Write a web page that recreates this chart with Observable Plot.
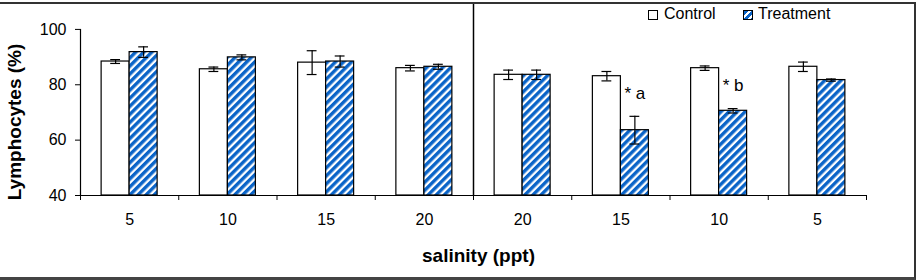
<!DOCTYPE html>
<html>
<head>
<meta charset="utf-8">
<script src="https://cdn.jsdelivr.net/npm/d3@7"></script>
<script src="https://cdn.jsdelivr.net/npm/@observablehq/plot@0.6"></script>
<style>
  body { margin: 0; background: #fff; font-family: "Liberation Sans", Arial, sans-serif; }
  #wrap { position: relative; width: 918px; height: 280px; overflow: hidden; }
  #wrap svg { position: absolute; left: 0; top: 0; }
  #border { position: absolute; left: 0; top: 2px; width: 914px; height: 273px;
            border-top: 2px solid #333; border-right: 2px solid #333; border-bottom: 3px solid #444;
            pointer-events: none; }
  .key { position: absolute; font-size: 16px; line-height: 1; color: #000; }
  .swatch { position: absolute; width: 8px; height: 8px; border: 1px solid #000; }
  .swatch.control { background: #fff; }
  .swatch.treatment { background: repeating-linear-gradient(135deg, #0a64c8 0 3px, #fff 3px 5px); }
</style>
</head>
<body>
<div id="wrap">
  <div id="chart"></div>
  <div id="border"></div>
  <div class="swatch control" style="left:648px; top:10px;"></div>
  <div class="key" style="left:664px; top:6px;">Control</div>
  <div class="swatch treatment" style="left:743px; top:10px;"></div>
  <div class="key" style="left:758px; top:6px;">Treatment</div>
</div>
<script>
// Lymphocyte percentages by salinity step (mean ± error)
const salinity = ["5", "10", "15", "20", "20", "15", "10", "5"];
const control = [88.4, 85.6, 88.0, 86.0, 83.6, 83.1, 86.0, 86.5];
const controlErr = [0.7, 0.8, 4.3, 1.0, 1.7, 1.7, 0.8, 1.7];
const treatment = [91.8, 89.9, 88.4, 86.5, 83.6, 63.6, 70.6, 81.7];
const treatmentErr = [1.9, 0.9, 2.0, 0.9, 1.7, 5.0, 0.8, 0.4];
const notes = ["", "", "", "", "", "* a", "* b", ""];
const yTicks = [40, 60, 80, 100];

const barW = 0.285;  // bar width, in group units
const capW = 0.05;   // half-width of error bar caps
const blue = "#0a64c8";

const groups = salinity.map((s, i) => i);
const controlRows = groups.map(i => ({
  x1: i + 0.5 - barW, x2: i + 0.5, xm: i + 0.5 - barW / 2,
  v: control[i], e: controlErr[i]
}));
const treatmentRows = groups.map(i => ({
  x1: i + 0.5, x2: i + 0.5 + barW, xm: i + 0.5 + barW / 2,
  v: treatment[i], e: treatmentErr[i], note: notes[i]
}));
const allRows = controlRows.concat(treatmentRows);

const svg = Plot.plot({
  width: 918,
  height: 280,
  marginLeft: 80,
  marginRight: 52,
  marginTop: 4,
  marginBottom: 85,
  style: { fontFamily: "'Liberation Sans', Arial, sans-serif", fontSize: "15px", color: "#000", background: "transparent", overflow: "visible" },
  x: { domain: [0, salinity.length] },
  y: { domain: [40, 109] },
  marks: [
    Plot.rectY(controlRows, { x1: "x1", x2: "x2", y1: 40, y2: "v", fill: "white", stroke: "black", strokeWidth: 1.2 }),
    Plot.rectY(treatmentRows, { x1: "x1", x2: "x2", y1: 40, y2: "v", fill: "url(#stripes)", stroke: "black", strokeWidth: 1.2 }),
    // error bars
    Plot.ruleX(allRows, { x: "xm", y1: d => d.v - d.e, y2: d => d.v + d.e, stroke: "black", strokeWidth: 1.2 }),
    Plot.ruleY(allRows, { y: d => d.v - d.e, x1: d => d.xm - capW, x2: d => d.xm + capW, stroke: "black", strokeWidth: 1.2 }),
    Plot.ruleY(allRows, { y: d => d.v + d.e, x1: d => d.xm - capW, x2: d => d.xm + capW, stroke: "black", strokeWidth: 1.2 }),
    // significance notes
    Plot.text(treatmentRows.filter(d => d.note), { x: "xm", y: d => d.v + d.e, dy: -23, text: "note", fontSize: 17 }),
    // axes
    Plot.ruleX([0], { y1: 40, y2: 100, stroke: "black", strokeWidth: 1.2 }),
    Plot.ruleY([40], { stroke: "black", strokeWidth: 1.2 }),
    Plot.ruleX([salinity.length / 2], { stroke: "black", strokeWidth: 1.5 }),
    Plot.axisY({ ticks: yTicks, tickSize: 5, tickPadding: 9, fontSize: 16, label: null }),
    Plot.axisX({ ticks: d3.range(salinity.length + 1), tickSize: 5, tickFormat: () => "", label: null }),
    Plot.axisX({ ticks: groups.map(i => i + 0.5), tickSize: 0, tickPadding: 18, tickFormat: v => salinity[Math.floor(v)], fontSize: 16, label: null }),
    Plot.text(["salinity (ppt)"], { frameAnchor: "bottom", dx: 5, dy: 66, fontWeight: "bold", fontSize: 19 }),
    Plot.text(["Lymphocytes (%)"], { frameAnchor: "left", textAnchor: "middle", rotate: -90, dx: -66, dy: 22, fontWeight: "bold", fontSize: 19 })
  ]
});

// diagonal hatch used by the treatment bars
const defs = d3.select(svg).insert("defs", ":first-child");
const pat = defs.append("pattern")
  .attr("id", "stripes")
  .attr("patternUnits", "userSpaceOnUse")
  .attr("width", 5.7).attr("height", 5.7)
  .attr("patternTransform", "rotate(45)");
pat.append("rect").attr("width", 5.7).attr("height", 5.7).attr("fill", "#fff");
pat.append("rect").attr("width", 3.4).attr("height", 5.7).attr("fill", blue);

document.getElementById("chart").appendChild(svg);
</script>
</body>
</html>
